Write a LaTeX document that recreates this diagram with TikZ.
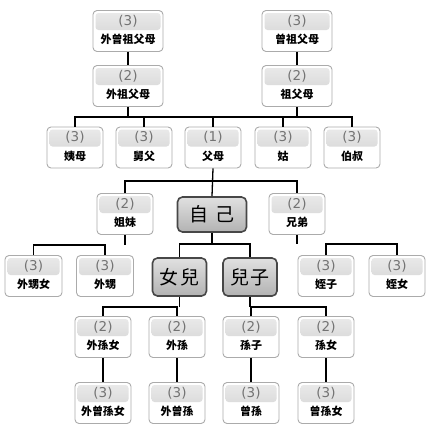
\documentclass[tikz,border=0pt]{standalone}
\usepackage{fontspec}
\newfontfamily\cjk{Noto Sans CJK TC}
\newfontfamily\numfont{DejaVu Sans}
\tikzset{
  kinbox/.style={draw=black!33, line width=0.9pt, rounded corners=4pt, fill=white,
    minimum height=41pt, inner sep=0pt,
    path picture={\fill[rounded corners=3pt, top color=black!8, bottom color=black!20]
      ([xshift=2.5pt,yshift=-2.5pt]path picture bounding box.north west) rectangle
      ([xshift=-2.5pt,yshift=-19.5pt]path picture bounding box.north east);}},
  numtxt/.style={font=\numfont\fontsize{13.5}{13.5}\selectfont, text=black!55, inner sep=0pt},
  nametxt/.style={font=\cjk\bfseries\fontsize{11}{11}\selectfont, text=black, inner sep=0pt},
  bigbox/.style={draw=black!72, line width=1.6pt, rounded corners=5pt,
    top color=black!12, bottom color=black!30, inner sep=0pt,
    font=\cjk\fontsize{19}{19}\selectfont},
  conn/.style={draw=black, line width=1.3pt}
}
\newcommand\kin[6]{%
  \node[kinbox, minimum width=#4pt] (#1) at (#2,#3) {};
  \node[numtxt] (#1n) at ([yshift=-11pt]#1.north) {(#5)};
  \node[nametxt] (#1t) at ([yshift=-29.5pt]#1.north) {#6};}
\begin{document}
\begin{tikzpicture}[x=1pt,y=-1pt]
\useasboundingbox (0,0) rectangle (429,437);
% bus levels
\coordinate (b1) at (0,117);
\coordinate (b2) at (0,181);
\coordinate (b3) at (0,245);
\coordinate (b4) at (0,244);
\coordinate (b6) at (0,307);
% boxes
\kin{wzzfm}{128}{31}{70}{3}{外曾祖父母}
\kin{zzfm}{297}{31}{70}{3}{曾祖父母}
\kin{wzfm}{128}{86}{70}{2}{外祖父母}
\kin{zfm}{297}{86}{70}{2}{祖父母}
\kin{yimu}{75}{147.5}{56}{3}{姨母}
\kin{jiufu}{144}{147.5}{56}{3}{舅父}
\kin{fumu}{213}{147.5}{56}{1}{父母}
\kin{gu}{283}{147.5}{56}{3}{姑}
\kin{bofu}{352}{147.5}{56}{3}{伯叔}
\kin{jiemei}{125}{214}{56}{2}{姐妹}
\kin{xiongdi}{297}{214}{56}{2}{兄弟}
\node[bigbox, minimum width=69pt, minimum height=35pt] (ziji) at (212,214.5) {自\hspace{7pt}己};
\kin{wsnv}{33.5}{276}{57}{3}{外甥女}
\kin{ws}{105}{276}{57}{3}{外甥}
\node[bigbox, minimum width=54pt, minimum height=38pt] (nuer) at (179.5,277) {女\hspace{2pt}兒};
\node[bigbox, minimum width=54pt, minimum height=38pt] (erzi) at (250,277) {兒\hspace{2pt}子};
\kin{zhizi}{326}{276}{56}{3}{姪子}
\kin{zhinv}{397}{276}{56}{3}{姪女}
\kin{wsunv}{103}{337}{56}{2}{外孫女}
\kin{wsun}{177}{337}{56}{2}{外孫}
\kin{sunzi}{251}{337}{56}{2}{孫子}
\kin{sunnv}{326}{337}{56}{2}{孫女}
\kin{wzsunv}{103}{403}{56}{3}{外曾孫女}
\kin{wzsun}{177}{403}{56}{3}{外曾孫}
\kin{zsun}{251}{403}{56}{3}{曾孫}
\kin{zsunv}{326}{403}{56}{3}{曾孫女}
% connectors
\draw[conn] (wzzfm) -- (wzfm);
\draw[conn] (zzfm) -- (zfm);
\draw[conn] (yimu.north) -- (yimu.north |- b1) -- (bofu.north |- b1) -- (bofu.north);
\draw[conn] (wzfm.south) -- (wzfm.south |- b1);
\draw[conn] (zfm.south) -- (zfm.south |- b1);
\foreach \n in {jiufu,fumu,gu} \draw[conn] (\n.north) -- (\n.north |- b1);
\draw[conn] (jiemei.north) -- (jiemei.north |- b2) -- (xiongdi.north |- b2) -- (xiongdi.north);
\draw[conn] (fumu.south) -- (ziji.north);
\draw[conn] (jiemei.south) -- (jiemei.south |- b3);
\draw[conn] (wsnv.north) -- (wsnv.north |- b3) -- (ws.north |- b3) -- (ws.north);
\draw[conn] (ziji.south) -- (ziji.south |- b4);
\draw[conn] (nuer.north) -- (nuer.north |- b4) -- (erzi.north |- b4) -- (erzi.north);
\draw[conn] (xiongdi.south) -- (xiongdi.south |- b4);
\draw[conn] (zhizi.north) -- (zhizi.north |- b4) -- (zhinv.north |- b4) -- (zhinv.north);
\draw[conn] (nuer.south) -- (nuer.south |- b6);
\draw[conn] (wsunv.north) -- (wsunv.north |- b6) -- (wsun.north |- b6) -- (wsun.north);
\draw[conn] (erzi.south) -- (erzi.south |- b6);
\draw[conn] (sunzi.north) -- (sunzi.north |- b6) -- (sunnv.north |- b6) -- (sunnv.north);
\draw[conn] (wsunv) -- (wzsunv);
\draw[conn] (wsun) -- (wzsun);
\draw[conn] (sunzi) -- (zsun);
\draw[conn] (sunnv) -- (zsunv);
\end{tikzpicture}
\end{document}
